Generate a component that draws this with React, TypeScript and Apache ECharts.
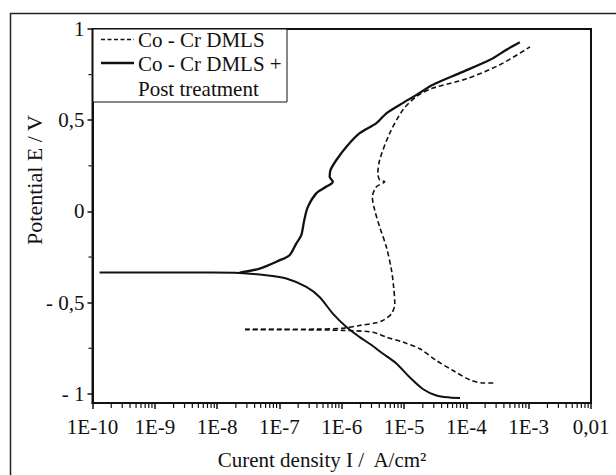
import React, { useEffect, useRef } from "react";
import * as echarts from "echarts";

// ---- Data (current density A/cm2, potential V) ----
const xTickLabels = ["1E-10", "1E-9", "1E-8", "1E-7", "1E-6", "1E-5", "1E-4", "1E-3", "0,01"];
const yTickValues = [-1, -0.5, 0, 0.5, 1];
const yTickLabels = ["- 1", "- 0,5", "0", "0,5", "1"];
const yMinorTicks = [-0.75, -0.25, 0.25, 0.75];
const xMinorMultipliers = [2, 3, 4, 5, 6, 7, 8, 9];
const xDecades = [-10, -9, -8, -7, -6, -5, -4, -3];

const legendNames = ["Co - Cr DMLS", "Co - Cr DMLS +", "Post treatment"];

// Co-Cr DMLS + post treatment (solid)
const solidCathodic: number[][] = [
  [7.9e-5, -1.022], [5.4e-5, -1.02], [3.3e-5, -1.009], [2.0e-5, -0.973], [1.23e-5, -0.909],
  [7.6e-6, -0.835], [4.6e-6, -0.78], [2.8e-6, -0.725], [1.94e-6, -0.689], [1.19e-6, -0.634],
  [7.2e-7, -0.56], [4.4e-7, -0.469], [2.7e-7, -0.414], [1.29e-7, -0.368], [6.1e-8, -0.35],
  [2.3e-8, -0.337], [8e-9, -0.335], [1e-9, -0.335], [1.3e-10, -0.335],
];
const solidAnodic: number[][] = [
  [2.3e-8, -0.335], [4.8e-8, -0.313], [1.0e-7, -0.268], [1.45e-7, -0.24], [1.86e-7, -0.176],
  [2.24e-7, -0.13], [2.5e-7, -0.048], [2.86e-7, 0.025], [3.9e-7, 0.099], [5.6e-7, 0.135],
  [7.2e-7, 0.163], [6.4e-7, 0.19], [6.6e-7, 0.227], [8.2e-7, 0.282], [1.19e-6, 0.355],
  [1.94e-6, 0.429], [3.6e-6, 0.484], [5.2e-6, 0.538], [8.5e-6, 0.584], [1.58e-5, 0.639],
  [2.9e-5, 0.694], [7.8e-5, 0.758], [2.4e-4, 0.831], [4.4e-4, 0.886], [7.2e-4, 0.927],
];

// Co-Cr DMLS (dashed)
const dashedCathodic: number[][] = [
  [2.7e-4, -0.94], [1.86e-4, -0.94], [1.14e-4, -0.923], [6.1e-5, -0.872], [3.3e-5, -0.817],
  [1.79e-5, -0.753], [9.6e-6, -0.716], [5.2e-6, -0.689], [3.18e-6, -0.662], [1.04e-6, -0.652],
  [3e-7, -0.649], [1e-7, -0.648], [2.8e-8, -0.648],
];
const dashedAnodic: number[][] = [
  [2.8e-8, -0.646], [1e-7, -0.646], [4e-7, -0.645], [1.04e-6, -0.64], [1.94e-6, -0.625],
  [3.6e-6, -0.61], [4.6e-6, -0.597], [6.3e-6, -0.56], [7.1e-6, -0.505], [6.8e-6, -0.414],
  [6.3e-6, -0.323], [5.2e-6, -0.195], [4.06e-6, -0.085], [3.38e-6, 0.007], [3.1e-6, 0.08],
  [3.6e-6, 0.135], [4.9e-6, 0.163], [4.06e-6, 0.172], [3.8e-6, 0.209], [4.06e-6, 0.282],
  [5.9e-6, 0.429], [9.6e-6, 0.557], [1.58e-5, 0.63], [2.9e-5, 0.676], [1.0e-4, 0.727],
  [3.45e-4, 0.804], [1.05e-3, 0.902],
];

const X_MIN = 1e-10;
const X_MAX = 1e-2;
const Y_MIN = -1.05;
const Y_MAX = 1;

const FONT = "'Liberation Serif', 'Times New Roman', Tinos, 'DejaVu Serif', serif";
const INK = "#111";

export default function App() {
  const ref = useRef<HTMLDivElement>(null);

  useEffect(() => {
    if (!ref.current) return;
    const chart = echarts.init(ref.current, undefined, { renderer: "svg" });

    const minorData: number[][] = [];
    xDecades.forEach((d) => xMinorMultipliers.forEach((m) => minorData.push([m * Math.pow(10, d), Y_MIN, 0])));
    yMinorTicks.forEach((v) => minorData.push([X_MIN, v, 1]));

    const lineBase = { type: "line", showSymbol: false, symbol: "none", smooth: 0.3, clip: true, z: 3 };
    const txt = (text: string, x: number, y: number, align: string, size: number, extra: any = {}) => ({
      type: "text", z: 11, x, y, ...extra,
      style: { text, font: `${size}px ${FONT}`, fill: INK, textAlign: align, textVerticalAlign: "middle" },
    });

    chart.setOption({
      animation: false,
      backgroundColor: "#fff",
      textStyle: { fontFamily: FONT },
      grid: {
        left: 92.5, top: 29, right: 25, bottom: 72,
        show: true, borderColor: INK, borderWidth: 2, backgroundColor: "transparent",
      },
      xAxis: {
        type: "log", logBase: 10, min: X_MIN, max: X_MAX, interval: 1,
        axisLine: { show: true, onZero: false, lineStyle: { color: INK, width: 2 } },
        axisTick: { show: true, inside: false, length: 6, lineStyle: { color: INK, width: 1.5 } },
        splitLine: { show: false },
        axisLabel: {
          color: INK, fontFamily: FONT, fontSize: 21, margin: 13,
          formatter: (v: number) => {
            const e = Math.round(Math.log10(v));
            return xTickLabels[e + 10] ?? "";
          },
        },
      },
      yAxis: {
        type: "value", min: Y_MIN, max: Y_MAX,
        axisLine: { show: true, onZero: false, lineStyle: { color: INK, width: 2 } },
        axisTick: { show: true, inside: false, length: 5, customValues: yTickValues, lineStyle: { color: INK, width: 1.5 } },
        splitLine: { show: false },
        axisLabel: {
          color: INK, fontFamily: FONT, fontSize: 21, margin: 8,
          customValues: yTickValues,
          formatter: (v: number) => {
            const i = yTickValues.findIndex((t) => Math.abs(t - v) < 1e-6);
            return i >= 0 ? yTickLabels[i] : "";
          },
        },
      },
      series: [
        { ...lineBase, name: legendNames[0], data: dashedCathodic, lineStyle: { color: INK, width: 1.6, type: [5, 3] } },
        { ...lineBase, name: legendNames[0], data: dashedAnodic, lineStyle: { color: INK, width: 1.6, type: [5, 3] } },
        { ...lineBase, name: legendNames[1], data: solidCathodic, lineStyle: { color: INK, width: 2 } },
        { ...lineBase, name: legendNames[1], data: solidAnodic, lineStyle: { color: INK, width: 2.3 } },
        {
          type: "custom",
          clip: false,
          silent: true,
          z: 4,
          data: minorData,
          encode: { x: 0, y: 1 },
          renderItem: (_params: any, api: any) => {
            const v0 = api.value(0);
            const v1 = api.value(1);
            const kind = api.value(2);
            const p = api.coord([v0, v1]);
            if (kind === 0) {
              return { type: "line", shape: { x1: p[0], y1: p[1] + 1, x2: p[0], y2: p[1] + 5 }, style: { stroke: INK, lineWidth: 1.2 } };
            }
            return { type: "line", shape: { x1: p[0] - 1, y1: p[1], x2: p[0] - 4, y2: p[1] }, style: { stroke: INK, lineWidth: 1.2 } };
          },
        },
      ],
      graphic: [
        { type: "rect", z: -1, shape: { x: 10.5, y: 13.5, width: 700, height: 700 }, style: { fill: "none", stroke: "#222", lineWidth: 1.5 } },
        { type: "rect", z: 10, shape: { x: 93, y: 29, width: 194, height: 73 }, style: { fill: "#fff", stroke: INK, lineWidth: 1 } },
        { type: "line", z: 11, shape: { x1: 101, y1: 39.5, x2: 134, y2: 39.5 }, style: { stroke: INK, lineWidth: 1.6, lineDash: [4, 2.5] } },
        { type: "line", z: 11, shape: { x1: 101, y1: 63, x2: 134, y2: 63 }, style: { stroke: INK, lineWidth: 2.4 } },
        txt(legendNames[0], 138, 40, "left", 21),
        txt(legendNames[1], 138, 64, "left", 21),
        txt(legendNames[2], 138, 89, "left", 21),
        txt("Curent density I /  A/cm²", 322, 460, "center", 21),
        txt("Potential E / V", 34, 180, "center", 22, { rotation: Math.PI / 2 }),
      ],
    });

    return () => chart.dispose();
  }, []);

  return <div ref={ref} style={{ position: "fixed", left: 0, top: 0, width: 616, height: 475 }} />;
}
